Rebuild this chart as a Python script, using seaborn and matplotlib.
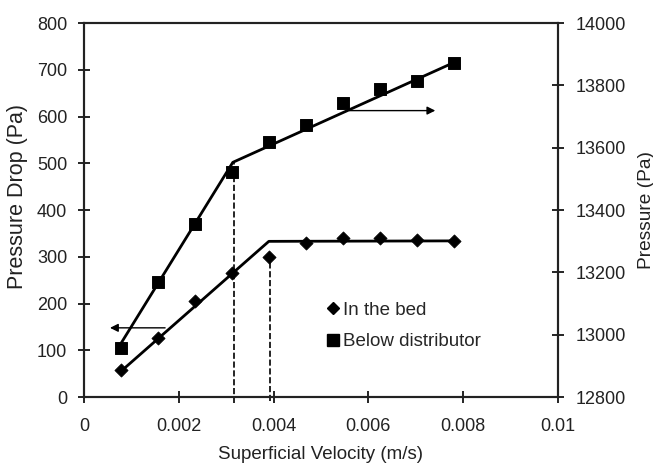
import matplotlib
matplotlib.use("Agg")
import matplotlib.pyplot as plt
from matplotlib.lines import Line2D
import seaborn as sns
import pandas as pd

# Données
vitesse = [0.00078, 0.00156, 0.00234, 0.00312, 0.0039, 0.00468, 0.00546, 0.00624, 0.00702, 0.0078]
dp_lit = [57, 127, 205, 265, 300, 329, 340, 340, 336, 334]
p_distrib = [12958, 13170, 13355, 13523, 13619, 13672, 13744, 13788, 13815, 13871]

# Droites d'ajustement
fit_lit_x = [0.00078, 0.0039, 0.0078]
fit_lit_y = [55, 333, 334]
fit_distrib_x = [0.00078, 0.00314, 0.0078]
fit_distrib_y = [12972, 13553, 13873]

# Lignes pointillées verticales
vmf_1 = 0.00316
vmf_2 = 0.00392

df = pd.DataFrame({"vitesse": vitesse, "dp_lit": dp_lit, "p_distrib": p_distrib})

sns.set_style("ticks")
plt.rcParams['font.family'] = ['Liberation Sans', 'DejaVu Sans']

fig = plt.figure(figsize=(6.53, 4.66), dpi=100)
ax = fig.add_axes([0.1286, 0.148, 0.7259, 0.8026])
ax2 = ax.twinx()

# Axe gauche : perte de charge dans le lit
sns.lineplot(x=fit_lit_x, y=fit_lit_y, ax=ax, color='black', linewidth=2)
sns.scatterplot(data=df, x="vitesse", y="dp_lit", ax=ax, marker='D', s=45,
                color='black', edgecolor='black', zorder=5)
ax.plot([vmf_1, vmf_1], [-12, 500], color='black', linestyle='--', linewidth=1.2, clip_on=False)
ax.plot([vmf_2, vmf_2], [-8, 300], color='black', linestyle='--', linewidth=1.2, clip_on=False)
ax.annotate('', xy=(0.00049, 148), xytext=(0.00177, 148),
            arrowprops=dict(arrowstyle='-|>', color='black', lw=1, mutation_scale=12))

# Axe droit : pression sous le distributeur
sns.lineplot(x=fit_distrib_x, y=fit_distrib_y, ax=ax2, color='black', linewidth=2)
sns.scatterplot(data=df, x="vitesse", y="p_distrib", ax=ax2, marker='s', s=70,
                color='black', edgecolor='black', zorder=5)
ax2.annotate('', xy=(0.00747, 13719), xytext=(0.00554, 13719),
             arrowprops=dict(arrowstyle='-|>', color='black', lw=1, mutation_scale=12))

ax.set_xlim(0, 0.01)
ax.set_ylim(0, 800)
ax2.set_ylim(12800, 14000)
ax.set_xticks([0, 0.002, 0.004, 0.006, 0.008, 0.01])
ax.set_xticklabels(['0', '0.002', '0.004', '0.006', '0.008', '0.01'])
ax.set_yticks(range(0, 801, 100))
ax2.set_yticks(range(12800, 14001, 200))

ax.set_xlabel('Superficial Velocity (m/s)', fontsize=13.5, labelpad=8, color='#222222')
ax.set_ylabel('Pressure Drop (Pa)', fontsize=15.5, color='#222222')
ax.yaxis.set_label_coords(-0.118, 0.535)
ax2.set_ylabel('Pressure (Pa)', fontsize=13.8, labelpad=8, color='#222222')

for a in (ax, ax2):
    a.tick_params(direction='inout', length=8, width=1.2, labelsize=13,
                  colors='black', labelcolor='#222222')
    for s in a.spines.values():
        s.set_visible(True)
        s.set_linewidth(1.5)
        s.set_color('#222222')
ax.tick_params(axis='x', pad=11)
ax.tick_params(axis='y', pad=8)
ax2.tick_params(axis='y', pad=9)

handles = [Line2D([], [], marker='D', color='black', linestyle='none', markersize=6),
           Line2D([], [], marker='s', color='black', linestyle='none', markersize=8)]
ax.legend(handles, ['In the bed', 'Below distributor'], loc='center left',
          bbox_to_anchor=(0.47, 0.19), frameon=False, fontsize=13.5,
          handletextpad=0.05, handlelength=1.0, labelspacing=0.75)

fig.savefig('out.png', dpi=100)
